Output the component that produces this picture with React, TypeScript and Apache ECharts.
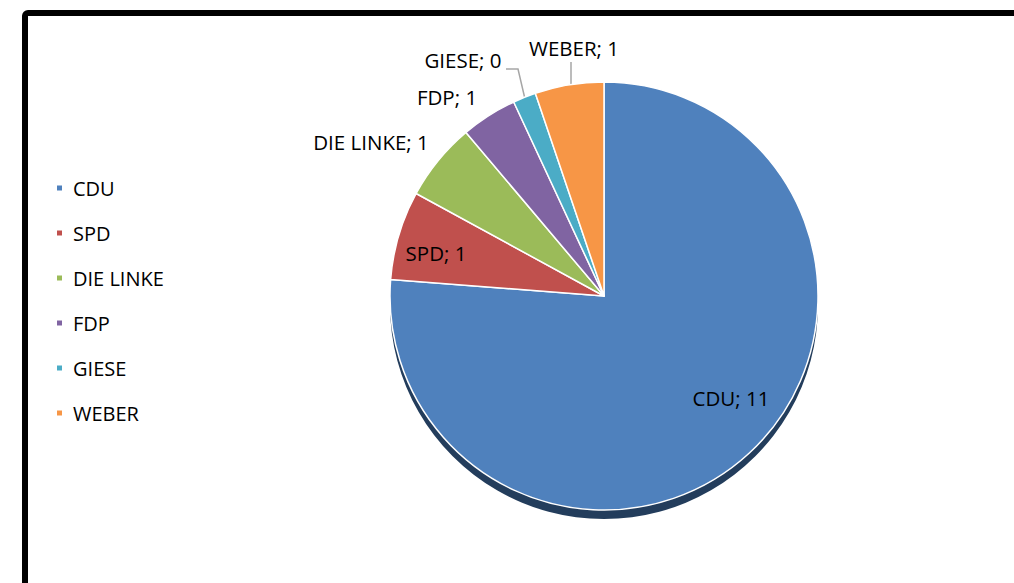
import React, { useEffect, useRef } from "react";
import * as echarts from "echarts";

const categories = ["CDU", "SPD", "DIE LINKE", "FDP", "GIESE", "WEBER"];
const values = [11.0, 0.97, 0.85, 0.61, 0.25, 0.75];
const colors = ["#4f81bd", "#c0504d", "#9bbb59", "#8064a2", "#4bacc6", "#f79646"];

// label placement (layout only)
const labelPos: Record<string, { x: number; y: number; line?: number[][] }> = {
  CDU: { x: 731, y: 398 },
  SPD: { x: 436, y: 253 },
  "DIE LINKE": { x: 371, y: 142 },
  FDP: { x: 447, y: 97 },
  GIESE: { x: 463, y: 60, line: [[506, 69], [518, 69], [525, 99]] },
  WEBER: { x: 574, y: 48, line: [[571, 62], [571, 62], [571, 86]] },
};

const FONT = "'Open Sans', 'Noto Sans', sans-serif";

export default function App() {
  const ref = useRef<HTMLDivElement>(null);
  useEffect(() => {
    if (!ref.current) return;
    const chart = echarts.init(ref.current, undefined, { renderer: "svg" });
    const cx = 604;
    const cy = 296;
    const r = 214;
    chart.setOption({
      animation: false,
      backgroundColor: "#ffffff",
      graphic: [
        {
          type: "rect",
          shape: { x: 25, y: 13, width: 1200, height: 800, r: 3 },
          style: { fill: "none", stroke: "#000000", lineWidth: 6 },
          z: 100,
        },
      ],
      legend: {
        orient: "vertical",
        left: 50,
        top: 173,
        icon: "rect",
        itemWidth: 7,
        itemHeight: 7,
        itemGap: 25,
        data: categories,
        textStyle: {
          fontFamily: FONT,
          fontSize: 20,
          color: "#000000",
          lineHeight: 20,
          padding: [0, 0, 0, 5],
        },
      },
      series: [
        {
          type: "pie",
          name: "shadow",
          silent: true,
          center: [cx, cy + 9],
          radius: r,
          startAngle: 90,
          label: { show: false },
          labelLine: { show: false },
          itemStyle: { color: "#233d5c", borderWidth: 0 },
          data: [{ value: 1, name: "_shadow" }],
          z: 1,
        },
        {
          type: "pie",
          name: "Stimmen",
          center: [cx, cy],
          radius: r,
          startAngle: 90,
          clockwise: true,
          avoidLabelOverlap: false,
          z: 2,
          itemStyle: { borderColor: "#ffffff", borderWidth: 1.5 },
          label: {
            show: true,
            position: "outside",
            fontFamily: FONT,
            fontSize: 20.5,
            color: "#000000",
            formatter: (p: any) => `${p.name}; ${Math.round(p.value)}`,
          },
          labelLine: {
            show: true,
            lineStyle: { color: "#a6a6a6", width: 1.5 },
          },
          labelLayout: (params: any) => {
            const name = categories[params.dataIndex];
            const pos = labelPos[name];
            const out: any = {
              x: pos.x,
              y: pos.y,
              align: "center",
              verticalAlign: "middle",
            };
            if (pos.line) out.labelLinePoints = pos.line;
            return out;
          },
          data: categories.map((c, i) => ({
            name: c,
            value: values[i],
            itemStyle: { color: colors[i] },
            labelLine: { show: !!labelPos[c].line },
          })),
        },
      ],
    });
    return () => chart.dispose();
  }, []);
  return (
    <div
      ref={ref}
      style={{ position: "fixed", left: 0, top: 0, width: 1014, height: 583 }}
    />
  );
}
